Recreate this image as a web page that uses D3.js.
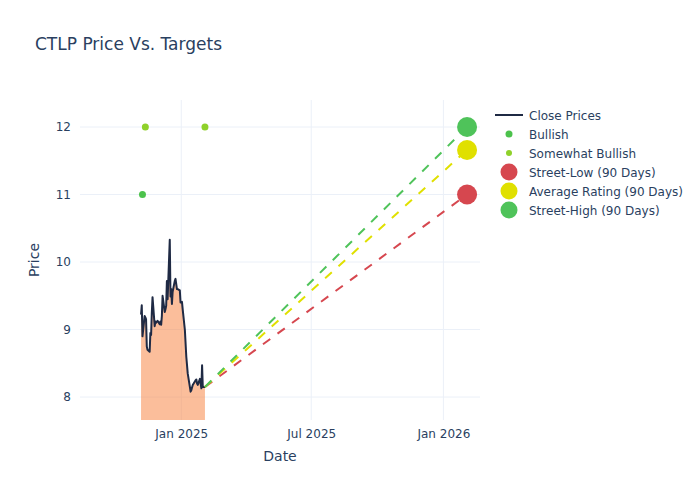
<!DOCTYPE html>
<html>
<head>
<meta charset="utf-8">
<script src="https://cdn.jsdelivr.net/npm/d3@7"></script>
<style>
  body { margin: 0; background: #fff; }
  svg text { font-family: "DejaVu Sans", Verdana, sans-serif; fill: #2a3f5f; }
</style>
</head>
<body>
<div id="chart"></div>
<script>
const width = 700;
const height = 500;
const margin = { top: 100, right: 220, bottom: 80, left: 80 };

// close prices
const priceDates = ['2024-11-06','2024-11-07','2024-11-08','2024-11-11','2024-11-12','2024-11-13','2024-11-14','2024-11-15',
  '2024-11-18','2024-11-19','2024-11-20','2024-11-21','2024-11-22','2024-11-25','2024-11-26','2024-11-27','2024-11-29',
  '2024-12-02','2024-12-03','2024-12-04','2024-12-05','2024-12-06','2024-12-09','2024-12-10','2024-12-11','2024-12-12',
  '2024-12-13','2024-12-16','2024-12-17','2024-12-18','2024-12-19','2024-12-20','2024-12-23','2024-12-24','2024-12-26',
  '2024-12-27','2024-12-30','2024-12-31','2025-01-02','2025-01-03','2025-01-06','2025-01-07','2025-01-08','2025-01-10',
  '2025-01-13','2025-01-14','2025-01-15','2025-01-16','2025-01-17','2025-01-21','2025-01-22','2025-01-23','2025-01-24',
  '2025-01-27','2025-01-28','2025-01-29','2025-01-30','2025-01-31','2025-02-03'];
const closePrices = [9.22, 9.36, 8.90, 9.20, 9.18, 9.15, 8.75, 8.70,
  8.67, 8.95, 8.92, 9.25, 9.48, 9.05, 9.12, 9.10, 9.13,
  9.08, 9.12, 9.07, 9.20, 9.50, 9.26, 9.30, 9.35, 9.72,
  9.45, 10.33, 9.49, 9.60, 9.38, 9.56, 9.72, 9.75, 9.60,
  9.60, 9.58, 9.40, 9.41, 9.30, 9.00, 8.80, 8.60, 8.35,
  8.15, 8.08, 8.10, 8.14, 8.18, 8.25, 8.26, 8.20, 8.18,
  8.27, 8.20, 8.13, 8.47, 8.15, 8.15];

// analyst ratings
const bullishDates = ['2024-11-08'];
const bullishTargets = [11];
const somewhatBullishDates = ['2024-11-12', '2025-02-03'];
const somewhatBullishTargets = [12, 12];

// 90 day targets
const targetDate = '2026-02-03';
const targetNames = ['Street-Low (90 Days)', 'Average Rating (90 Days)', 'Street-High (90 Days)'];
const targetValues = [11, 11.66, 12];
const targetColors = ['#d6474f', '#e0e000', '#4fc35a'];

const parse = d3.timeParse('%Y-%m-%d');
const prices = priceDates.map((d, i) => ({ date: parse(d), value: closePrices[i] }));
const last = prices[prices.length - 1];

const svg = d3.select('#chart').append('svg').attr('width', width).attr('height', height);

const x = d3.scaleTime()
  .domain([parse('2024-08-13'), parse('2026-02-21')])
  .range([margin.left, width - margin.right]);
const y = d3.scaleLinear()
  .domain([7.66, 12.4])
  .range([height - margin.bottom, margin.top]);

const xTicks = [parse('2025-01-01'), parse('2025-07-01'), parse('2026-01-01')];
const yTicks = [8, 9, 10, 11, 12];

// grid
svg.append('g').selectAll('line').data(xTicks).enter().append('line')
  .attr('x1', d => x(d)).attr('x2', d => x(d))
  .attr('y1', margin.top).attr('y2', height - margin.bottom)
  .attr('stroke', '#ebf0f8').attr('stroke-width', 1);
svg.append('g').selectAll('line').data(yTicks).enter().append('line')
  .attr('x1', margin.left).attr('x2', width - margin.right)
  .attr('y1', d => y(d)).attr('y2', d => y(d))
  .attr('stroke', '#ebf0f8').attr('stroke-width', 1);

// axes
const xAxis = svg.append('g')
  .attr('transform', `translate(0,${height - margin.bottom})`)
  .call(d3.axisBottom(x).tickValues(xTicks).tickFormat(d3.timeFormat('%b %Y')).tickSize(0).tickPadding(9));
xAxis.select('.domain').remove();
xAxis.selectAll('text').style('font-size', '12px').attr('fill', '#2a3f5f');

const yAxis = svg.append('g')
  .attr('transform', `translate(${margin.left},0)`)
  .call(d3.axisLeft(y).tickValues(yTicks).tickFormat(d3.format('d')).tickSize(0).tickPadding(9));
yAxis.select('.domain').remove();
yAxis.selectAll('text').style('font-size', '12px').attr('fill', '#2a3f5f');

svg.append('text').attr('x', 280).attr('y', 461).attr('text-anchor', 'middle')
  .style('font-size', '14px').text('Date');
svg.append('text').attr('transform', 'translate(39,260) rotate(-90)').attr('text-anchor', 'middle')
  .style('font-size', '14px').text('Price');

svg.append('text').attr('x', 35).attr('y', 50).style('font-size', '17px').text('CTLP Price Vs. Targets');

svg.append('clipPath').attr('id', 'plot-clip').append('rect')
  .attr('x', margin.left).attr('y', margin.top)
  .attr('width', width - margin.left - margin.right)
  .attr('height', height - margin.top - margin.bottom);

const plot = svg.append('g').attr('clip-path', 'url(#plot-clip)');

// area under close price
const area = d3.area().x(d => x(d.date)).y0(y(0)).y1(d => y(d.value));
plot.append('path').datum(prices).attr('d', area).attr('fill', 'rgba(248,125,55,0.5)');

const line = d3.line().x(d => x(d.date)).y(d => y(d.value));
plot.append('path').datum(prices).attr('d', line)
  .attr('fill', 'none').attr('stroke', '#1f2a44').attr('stroke-width', 2).attr('stroke-linejoin', 'round');

// dashed projections
targetValues.forEach((v, i) => {
  plot.append('path')
    .datum([last, { date: parse(targetDate), value: v }])
    .attr('d', line)
    .attr('fill', 'none').attr('stroke', targetColors[i]).attr('stroke-width', 2)
    .attr('stroke-dasharray', '9,9');
});

// ratings
plot.selectAll('.bullish').data(bullishDates).enter().append('circle')
  .attr('cx', d => x(parse(d))).attr('cy', (d, i) => y(bullishTargets[i]))
  .attr('r', 3.5).attr('fill', '#4cc24c');
plot.selectAll('.sbullish').data(somewhatBullishDates).enter().append('circle')
  .attr('cx', d => x(parse(d))).attr('cy', (d, i) => y(somewhatBullishTargets[i]))
  .attr('r', 3.5).attr('fill', '#8fd12a');

// target markers
plot.selectAll('.target').data(targetValues).enter().append('circle')
  .attr('cx', x(parse(targetDate))).attr('cy', d => y(d))
  .attr('r', 10).attr('fill', (d, i) => targetColors[i]);

// legend
const legend = svg.append('g').attr('transform', 'translate(495,115)');
const items = [
  { name: 'Close Prices', type: 'line', color: '#1f2a44' },
  { name: 'Bullish', type: 'dot', r: 3.5, color: '#4cc24c' },
  { name: 'Somewhat Bullish', type: 'dot', r: 3, color: '#8fd12a' },
  { name: targetNames[0], type: 'dot', r: 8.5, color: targetColors[0] },
  { name: targetNames[1], type: 'dot', r: 8.5, color: targetColors[1] },
  { name: targetNames[2], type: 'dot', r: 8.5, color: targetColors[2] }
];
const rows = legend.selectAll('g').data(items).enter().append('g')
  .attr('transform', (d, i) => `translate(0,${i * 19})`);
rows.filter(d => d.type === 'line').append('line')
  .attr('x1', 0).attr('x2', 28).attr('y1', 0).attr('y2', 0)
  .attr('stroke', d => d.color).attr('stroke-width', 2);
rows.filter(d => d.type === 'dot').append('circle')
  .attr('cx', 14).attr('cy', 0).attr('r', d => d.r).attr('fill', d => d.color);
rows.append('text').attr('x', 34).attr('y', 4.5).style('font-size', '12px').text(d => d.name);
</script>
</body>
</html>
